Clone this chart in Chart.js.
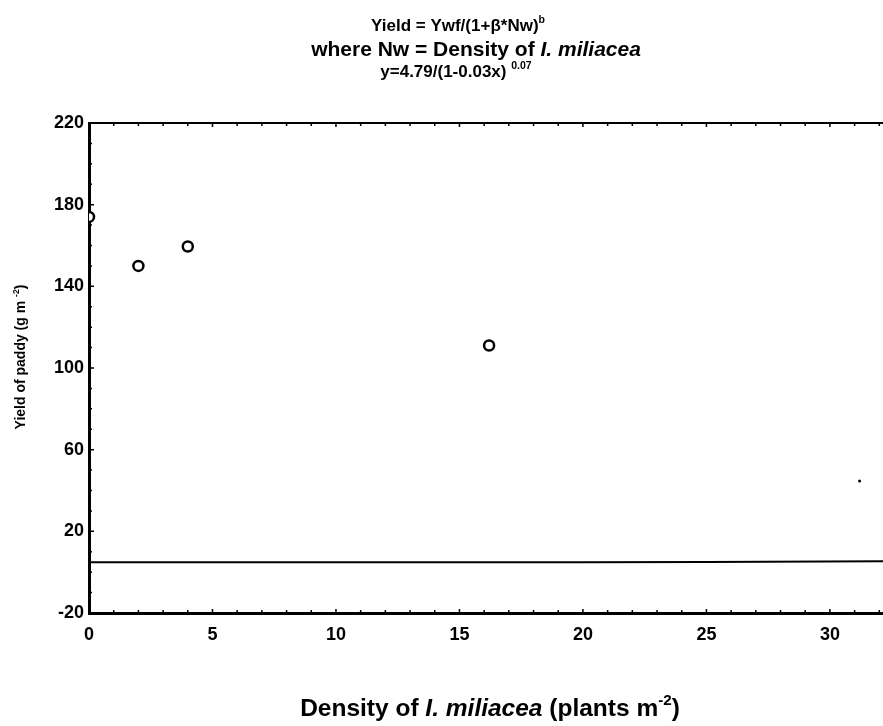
<!DOCTYPE html>
<html lang="en">
<head>
  <meta charset="UTF-8">
  <title>Yield of paddy vs density of I. miliacea</title>
  <script src="https://cdn.jsdelivr.net/npm/chart.js"></script>
  <style>
    html, body { margin: 0; padding: 0; background: #fff; overflow: hidden; }
    #wrap { position: relative; width: 883px; height: 726px; }
  </style>
</head>
<body>
  <div id="wrap"><canvas id="yieldChart"></canvas></div>

  <script>
    // observed yields (open circles)
    const densityObs = [0, 2, 4, 16.2];
    const yieldObs = [174, 150, 159.5, 111];
    // stray dot near the right edge
    const densityDot = [31.2];
    const yieldDot = [44.6];
    // fitted curve (nearly flat)
    const densityFit = [0, 10, 20, 25, 32.15];
    const yieldFit = [4.8, 4.8, 4.9, 5.0, 5.3];

    const xTicks = [0, 5, 10, 15, 20, 25, 30];
    const yTicks = [-20, 20, 60, 100, 140, 180, 220];

    const FONT = "'Liberation Sans', Arial, sans-serif";

    function pts(xs, ys) {
      return xs.map((x, i) => ({ x: x, y: ys[i] }));
    }

    // draw a line of text made of normal / italic / superscript pieces
    function richWidth(ctx, parts, size, weight) {
      let w = 0;
      parts.forEach(p => {
        const s = p.sup ? size * 0.62 : size;
        ctx.font = (p.it ? "italic " : "") + weight + " " + s + "px " + FONT;
        w += ctx.measureText(p.t).width;
      });
      return w;
    }
    function drawRich(ctx, parts, cx, y, size, weight) {
      let x = cx - richWidth(ctx, parts, size, weight) / 2;
      ctx.textAlign = "left";
      ctx.textBaseline = "alphabetic";
      parts.forEach(p => {
        const s = p.sup ? size * 0.62 : size;
        ctx.font = (p.it ? "italic " : "") + weight + " " + s + "px " + FONT;
        ctx.fillText(p.t, x, p.sup ? y - size * 0.45 : y);
        x += ctx.measureText(p.t).width;
      });
    }

    const decorations = {
      id: "decorations",
      afterDraw(chart) {
        const ctx = chart.ctx;
        const xs = chart.scales.x, ys = chart.scales.y;
        const a = chart.chartArea;
        ctx.save();
        ctx.fillStyle = "#000";
        ctx.strokeStyle = "#000";

        // top frame line
        ctx.lineWidth = 2;
        ctx.beginPath();
        ctx.moveTo(a.left, a.top);
        ctx.lineTo(a.right, a.top);
        ctx.stroke();

        // inward ticks
        ctx.lineWidth = 1.5;
        ctx.beginPath();
        for (let v = -20; v <= 220; v += 10) {
          const py = ys.getPixelForValue(v);
          const len = (v + 20) % 40 === 0 ? 5 : 3;
          ctx.moveTo(a.left, py);
          ctx.lineTo(a.left + len, py);
        }
        for (let v = 1; v <= 32; v++) {
          const px = xs.getPixelForValue(v);
          const len = v % 5 === 0 ? 4 : 3;
          ctx.moveTo(px, a.bottom);
          ctx.lineTo(px, a.bottom - len);
          ctx.moveTo(px, a.top);
          ctx.lineTo(px, a.top + len);
        }
        ctx.stroke();

        // titles
        drawRich(ctx, [{ t: "Yield = Ywf/(1+\u03b2*Nw)" }, { t: "b", sup: true }], 458, 31, 17, "bold");
        drawRich(ctx, [{ t: "where Nw = Density of " }, { t: "I. miliacea", it: true }], 476, 56, 21, "bold");
        drawRich(ctx, [{ t: "y=4.79/(1-0.03x) " }, { t: "0.07", sup: true }], 456, 77, 17, "bold");

        // x axis title
        drawRich(ctx, [
          { t: "Density of " }, { t: "I. miliacea", it: true },
          { t: " (plants m" }, { t: "-2", sup: true }, { t: ")" }
        ], 490, 716, 24.5, "bold");

        // y axis title, rotated
        ctx.translate(25, 357);
        ctx.rotate(-Math.PI / 2);
        drawRich(ctx, [{ t: "Yield of paddy (g m " }, { t: "-2", sup: true }, { t: ")" }], 0, 0, 14, "bold");
        ctx.restore();
      }
    };

    new Chart(document.getElementById("yieldChart"), {
      type: "scatter",
      data: {
        datasets: [
          {
            label: "fit",
            data: pts(densityFit, yieldFit),
            showLine: true,
            borderColor: "#000",
            borderWidth: 2,
            pointRadius: 0,
            fill: false
          },
          {
            label: "observed",
            data: pts(densityObs, yieldObs),
            pointRadius: 5,
            pointBorderWidth: 2.5,
            pointBorderColor: "#000",
            pointBackgroundColor: "#fff"
          },
          {
            label: "dot",
            data: pts(densityDot, yieldDot),
            pointRadius: 1.5,
            pointBorderWidth: 0,
            pointBackgroundColor: "#000"
          }
        ]
      },
      options: {
        responsive: true,
        maintainAspectRatio: false,
        animation: false,
        layout: { autoPadding: false, padding: { top: 123, right: 0, bottom: 73, left: 0 } },
        plugins: {
          legend: { display: false },
          tooltip: { enabled: false }
        },
        scales: {
          x: {
            type: "linear",
            min: 0,
            max: 32.15,
            afterBuildTicks: s => { s.ticks = xTicks.map(v => ({ value: v })); },
            afterFit: s => { s.height = 40; s.paddingLeft = 0; s.paddingRight = 0; },
            grid: { display: false, drawTicks: false },
            border: { display: true, color: "#000", width: 3 },
            ticks: {
              color: "#000",
              padding: 11,
              maxRotation: 0,
              font: { family: FONT, size: 18, weight: "bold" }
            }
          },
          y: {
            min: -20,
            max: 220,
            afterBuildTicks: s => { s.ticks = yTicks.map(v => ({ value: v })); },
            afterFit: s => { s.width = 89; s.paddingTop = 0; s.paddingBottom = 0; },
            grid: { display: false, drawTicks: false },
            border: { display: true, color: "#000", width: 3 },
            ticks: {
              color: "#000",
              padding: 5,
              font: { family: FONT, size: 18, weight: "bold" }
            }
          }
        }
      },
      plugins: [decorations]
    });
  </script>
</body>
</html>
